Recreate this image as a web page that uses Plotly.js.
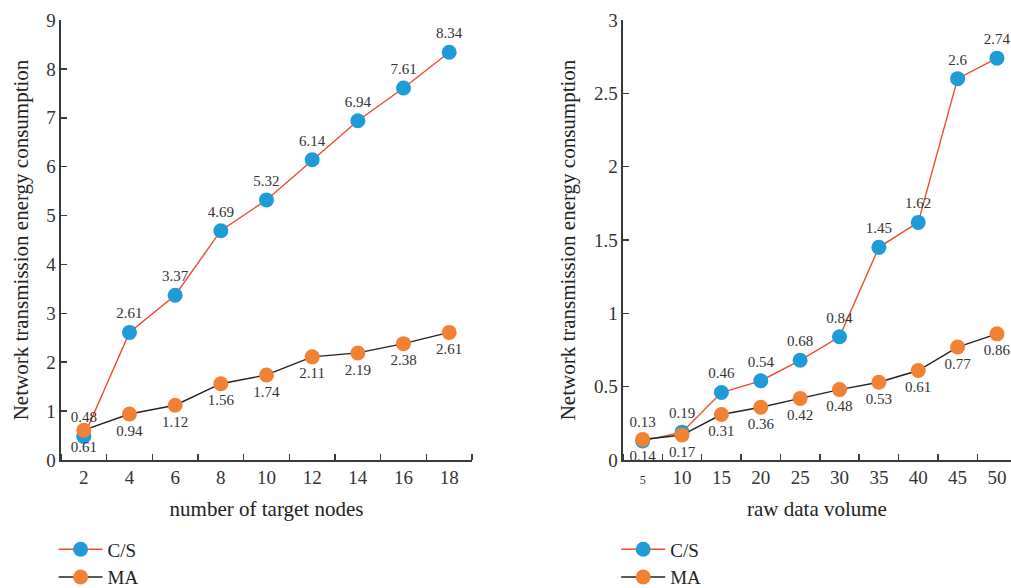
<!DOCTYPE html>
<html>
<head>
<meta charset="utf-8">
<script src="https://cdn.plot.ly/plotly-3.0.1.min.js"></script>
<style>html,body{margin:0;padding:0;background:#fff;}#chart{width:1011px;height:588px;}</style>
</head>
<body>
<div id="chart"></div>
<script>
// Left panel: number of target nodes
const nodesX = [2, 4, 6, 8, 10, 12, 14, 16, 18];
const csNodes = [0.48, 2.61, 3.37, 4.69, 5.32, 6.14, 6.94, 7.61, 8.34];
const maNodes = [0.61, 0.94, 1.12, 1.56, 1.74, 2.11, 2.19, 2.38, 2.61];
// Right panel: raw data volume
const volumeX = [5, 10, 15, 20, 25, 30, 35, 40, 45, 50];
const csVolume = [0.13, 0.19, 0.46, 0.54, 0.68, 0.84, 1.45, 1.62, 2.6, 2.74];
const maVolume = [0.14, 0.17, 0.31, 0.36, 0.42, 0.48, 0.53, 0.61, 0.77, 0.86];
const seriesNames = ['C/S', 'MA'];
const yTitle = 'Network transmission energy consumption';
const xTitleLeft = 'number of target nodes';
const xTitleRight = 'raw data volume';

const FONT = 'Liberation Serif, Times New Roman, serif';
const BLUE = '#1f9bd8';
const ORANGE = '#f28233';
const RED = '#ef4a2c';
const AX = '#3a3a3a';

function series(x, y, name, mColor, lColor, pos, xa, ya, leg) {
  return {
    type: 'scatter', mode: 'lines+markers+text',
    x: x, y: y, name: name, xaxis: xa, yaxis: ya, legend: leg, showlegend: true,
    text: y.map(v => String(v)), textposition: pos,
    textfont: {family: FONT, size: 15, color: '#333'},
    marker: {size: 15, color: mColor},
    line: {color: lColor, width: 1.4},
    cliponaxis: false
  };
}

const data = [
  series(nodesX, csNodes, seriesNames[0], BLUE, RED, 'top center', 'x', 'y', 'legend'),
  series(nodesX, maNodes, seriesNames[1], ORANGE, '#222', 'bottom center', 'x', 'y', 'legend'),
  series(volumeX, csVolume, seriesNames[0], BLUE, RED, 'top center', 'x2', 'y2', 'legend2'),
  series(volumeX, maVolume, seriesNames[1], ORANGE, '#222', 'bottom center', 'x2', 'y2', 'legend2')
];

const axisCommon = {
  showline: true, linecolor: AX, linewidth: 1.5, showgrid: false, zeroline: false,
  tickfont: {family: FONT, size: 19, color: '#333'}, automargin: false
};
const titleFont = {family: FONT, size: 21, color: '#222'};
const legendCommon = {
  xanchor: 'left', yanchor: 'top', bgcolor: 'rgba(0,0,0,0)',
  font: {family: FONT, size: 19, color: '#222'}, tracegroupgap: 0, itemwidth: 44
};

const layout = {
  width: 1011, height: 588,
  margin: {l: 0, r: 0, t: 20, b: 128, autoexpand: false},
  paper_bgcolor: '#fff', plot_bgcolor: '#fff',
  font: {family: FONT, color: '#333'},
  xaxis: Object.assign({}, axisCommon, {
    domain: [0.0603, 0.4669], range: [1, 19], anchor: 'y',
    tickmode: 'array', tickvals: nodesX, ticks: '',
    minor: {ticks: 'inside', tickmode: 'linear', tick0: 1, dtick: 2, ticklen: 6, tickcolor: AX, tickwidth: 1.5},
    title: {text: xTitleLeft, font: titleFont, standoff: 14}
  }),
  yaxis: Object.assign({}, axisCommon, {
    domain: [0, 1], range: [0, 9], anchor: 'x', dtick: 1,
    ticks: 'inside', ticklen: 6, tickcolor: AX, tickwidth: 1.5,
    title: {text: yTitle, font: titleFont, standoff: 12}
  }),
  xaxis2: Object.assign({}, axisCommon, {
    domain: [0.6162, 1], range: [2.5, 51.78], anchor: 'y2',
    tickmode: 'array', tickvals: volumeX,
    ticktext: volumeX.map((v, i) => i === 0 ? '<span style="font-size:12px">' + v + '</span>' : String(v)),
    ticks: '',
    minor: {ticks: 'inside', tickmode: 'linear', tick0: 2.5, dtick: 5, ticklen: 6, tickcolor: AX, tickwidth: 1.5},
    title: {text: xTitleRight, font: titleFont, standoff: 14}
  }),
  yaxis2: Object.assign({}, axisCommon, {
    domain: [0, 1], range: [0, 3], anchor: 'x2', dtick: 0.5,
    ticks: 'inside', ticklen: 6, tickcolor: AX, tickwidth: 1.5,
    title: {text: yTitle, font: titleFont, standoff: 12}
  }),
  legend: Object.assign({}, legendCommon, {x: 0.053, y: -0.16}),
  legend2: Object.assign({}, legendCommon, {x: 0.6095, y: -0.16})
};

Plotly.newPlot('chart', data, layout, {displayModeBar: false, staticPlot: true});
</script>
</body>
</html>
